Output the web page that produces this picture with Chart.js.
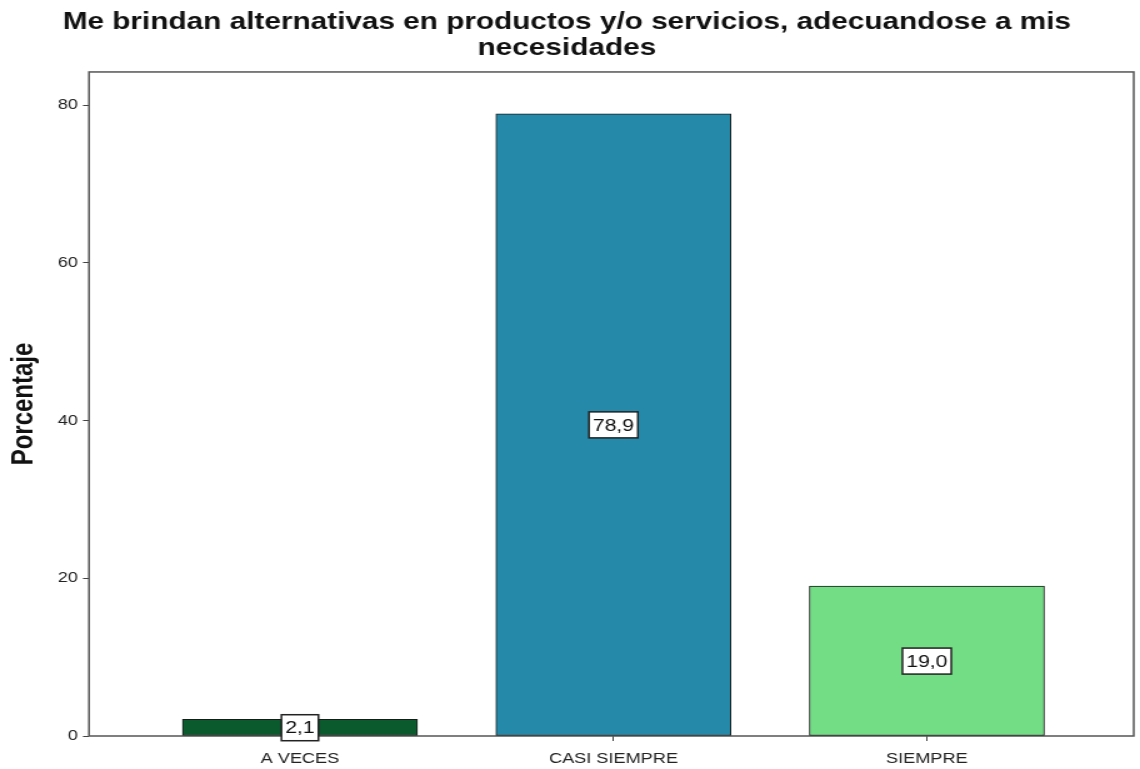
<!DOCTYPE html>
<html lang="es">
<head>
  <meta charset="UTF-8" />
  <title>Me brindan alternativas en productos y/o servicios</title>
  <script src="https://cdn.jsdelivr.net/npm/chart.js"></script>
  <style>
    body { margin:0; background:#fff; overflow:hidden; }
    /* el gráfico se dibuja algo más estrecho y se estira en horizontal */
    #wrap { width:912px; height:769px; transform:scaleX(1.25); transform-origin:0 0; }
  </style>
</head>
<body>
  <div id="wrap"><canvas id="grafico"></canvas></div>

  <script>
    // datos del gráfico
    const categorias = ["A VECES", "CASI SIEMPRE", "SIEMPRE"];
    const porcentajes = [2.1, 78.9, 19.0];
    const etiquetas = ["2,1", "78,9", "19,0"];
    const colores = ["#0b5a2e", "#2589aa", "#72dd85"];
    const ticksY = [0, 20, 40, 60, 80];

    const fuente = "'Liberation Sans', Arial, sans-serif";

    // marco del área de trazado
    const marco = {
      id: "marco",
      beforeDatasetsDraw(chart) {
        const a = chart.chartArea, c = chart.ctx;
        c.save();
        c.strokeStyle = "#555";
        c.lineWidth = 1.5;
        c.strokeRect(a.left, a.top, a.right - a.left, a.bottom - a.top);
        c.restore();
      }
    };

    // cajas con el valor en el centro de cada barra
    const cajas = {
      id: "cajas",
      afterDatasetsDraw(chart) {
        const c = chart.ctx, y = chart.scales.y;
        c.save();
        c.font = "17px " + fuente;
        c.textAlign = "center";
        c.textBaseline = "middle";
        chart.getDatasetMeta(0).data.forEach((bar, i) => {
          const cy = y.getPixelForValue(porcentajes[i] / 2);
          const w = c.measureText(etiquetas[i]).width + 6, h = 26;
          c.fillStyle = "#fff";
          c.fillRect(bar.x - w / 2, cy - h / 2, w, h);
          c.strokeStyle = "#222";
          c.lineWidth = 1.5;
          c.strokeRect(bar.x - w / 2, cy - h / 2, w, h);
          c.fillStyle = "#111";
          c.fillText(etiquetas[i], bar.x, cy + 1);
        });
        c.restore();
      }
    };

    new Chart(document.getElementById("grafico"), {
      type: "bar",
      data: {
        datasets: [{
          data: porcentajes.map((v, i) => ({ x: i, y: v })),
          backgroundColor: colores,
          borderColor: "#1a1a1a",
          borderWidth: 1,
          borderSkipped: false,
          barThickness: 188
        }]
      },
      options: {
        responsive: true,
        maintainAspectRatio: false,
        animation: false,
        layout: { padding: { left: 0, right: 5, top: 0, bottom: 0 } },
        plugins: {
          legend: { display: false },
          tooltip: { enabled: false },
          title: {
            display: true,
            text: ["Me brindan alternativas en productos y/o servicios, adecuandose a mis", "necesidades"],
            color: "#111",
            font: { family: fuente, size: 23.8, weight: "bold", lineHeight: 1.1 },
            padding: { top: 9, bottom: 10.6 }
          }
        },
        scales: {
          x: {
            type: "linear",
            offset: false,
            min: -0.673,
            max: 2.66,
            afterBuildTicks(s) { s.ticks = categorias.map((_, i) => ({ value: i })); },
            afterFit(s) { s.height = 33; },
            ticks: {
              color: "#222",
              font: { family: fuente, size: 14.5 },
              padding: 9,
              autoSkip: false,
              maxRotation: 0,
              callback: v => categorias[v]
            },
            grid: { offset: false, drawOnChartArea: false, tickLength: 5, color: "#444" },
            border: { display: false }
          },
          y: {
            min: 0,
            max: 84.2,
            afterBuildTicks(s) { s.ticks = ticksY.map(v => ({ value: v })); },
            afterFit(s) { s.width = 71.2; },
            ticks: { color: "#222", font: { family: fuente, size: 14.5 }, padding: 4 },
            grid: { drawOnChartArea: false, tickLength: 4.8, color: "#444" },
            border: { display: false },
            title: {
              display: true,
              text: "Porcentaje",
              color: "#111",
              font: { family: fuente, size: 24, weight: "bold", lineHeight: 1.2 },
              padding: { top: 4.6, bottom: 0 }
            }
          }
        }
      },
      plugins: [marco, cajas]
    });
  </script>
</body>
</html>
